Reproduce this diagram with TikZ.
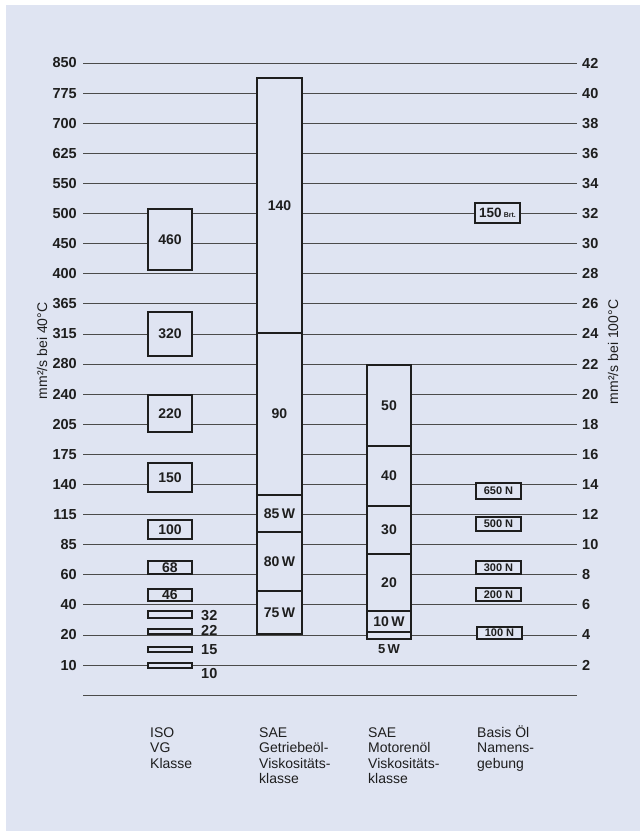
\documentclass[tikz,border=0pt]{standalone}
\usepackage{fontspec}
\setmainfont{Liberation Sans}
\definecolor{bg}{RGB}{223,228,242}
\definecolor{ink}{RGB}{30,30,30}
\begin{document}
\begin{tikzpicture}[x=1pt,y=-1pt,
  grid/.style={draw=ink!80, line width=0.8pt},
  lab/.style={inner sep=0pt, text=ink, font=\bfseries\fontsize{14.5}{15}\selectfont},
  box/.style={draw=ink, line width=1.1pt, fill=bg, inner sep=0pt, text=ink,
     font=\bfseries\fontsize{14}{14}\selectfont},
  isobox/.style={box, minimum width=44pt},
  gearbox/.style={box, minimum width=45pt},
  motbox/.style={box, minimum width=44pt},
  basbox/.style={box, minimum width=45pt, font=\bfseries\fontsize{11}{11}\selectfont},
  title/.style={rotate=90, inner sep=0pt, text=ink, font=\fontsize{14}{14}\selectfont},
  foot/.style={anchor=north west, align=left, inner sep=0pt, text=ink,
     font=\fontsize{14}{15.5}\selectfont}]
\useasboundingbox (0,0) rectangle (640,831);
\fill[bg] (6,5) rectangle (640,831);
% grid lines
\foreach \k in {0,...,21}{
  \coordinate (a\k) at (83,63+30.1*\k);
  \coordinate (b\k) at (577,63+30.1*\k);
  \draw[grid] (a\k) -- (b\k);
}
% left labels
\foreach \v [count=\i from 0] in {850,775,700,625,550,500,450,400,365,315,280,240,205,175,140,115,85,60,40,20,10}{
  \node[lab, anchor=east] (L\i) at (77,63+30.1*\i) {\v};
}
% right labels
\foreach \i in {0,...,20}{
  \pgfmathtruncatemacro\r{42-2*\i}
  \node[lab, anchor=west] (R\i) at (582,63+30.1*\i) {\r};
}
% axis titles
\node[title] (t40) at (42,351) {mm²/s bei 40°C};
\node[title] (t100) at (613,352) {mm²/s bei 100°C};
% ISO VG boxes
\node[isobox, minimum height=61pt] (i460) at (170,239.5) {460};
\node[isobox, minimum height=44pt] (i320) at (170,334) {320};
\node[isobox, minimum height=37pt] (i220) at (170,413.5) {220};
\node[isobox, minimum height=29pt] (i150) at (170,477.5) {150};
\node[isobox, minimum height=19pt] (i100) at (170,529.5) {100};
\node[isobox, minimum height=13pt] (i68) at (170,567.5) {68};
\node[isobox, minimum height=12pt] (i46) at (170,595) {46};
\node[isobox, minimum height=7pt] (i32) at (170,614.5) {};
\node[isobox, minimum height=5pt] (i22) at (170,631.5) {};
\node[isobox, minimum height=5pt] (i15) at (170,649.5) {};
\node[isobox, minimum height=5pt] (i10) at (170,665.5) {};
\node[lab, anchor=west] (l32) at (201,616) {32};
\node[lab, anchor=west] (l22) at (201,630) {22};
\node[lab, anchor=west] (l15) at (201,650) {15};
\node[lab, anchor=west] (l10) at (201,673) {10};
% SAE gear oil column
\node[gearbox, minimum height=255pt] (g140) at (279.5,205.5) {140};
\node[gearbox, minimum height=162pt] (g90) at (279.5,414) {90};
\node[gearbox, minimum height=37pt] (g85) at (279.5,513.5) {85\,W};
\node[gearbox, minimum height=59pt] (g80) at (279.5,561.5) {80\,W};
\node[gearbox, minimum height=43pt] (g75) at (279.5,612.5) {75\,W};
% SAE motor oil column
\node[motbox, minimum height=81pt] (m50) at (389,405.5) {50};
\node[motbox, minimum height=60pt] (m40) at (389,476) {40};
\node[motbox, minimum height=48pt] (m30) at (389,530) {30};
\node[motbox, minimum height=57pt] (m20) at (389,582.5) {20};
\node[motbox, minimum height=21pt] (m10) at (389,621.5) {10\,W};
\node[motbox, minimum height=7pt] (m5) at (389,635.5) {};
\node[lab, font=\bfseries\fontsize{13}{13}\selectfont] (l5) at (389,649) {5\,W};
% Basis oil names
\node[basbox, minimum height=20pt, font=\bfseries\fontsize{13.5}{13.5}\selectfont] (b150) at (497.5,213) {150\,{\fontsize{7}{7}\selectfont Brt.}};
\node[basbox, minimum height=16pt] (b650) at (498.5,491) {650 N};
\node[basbox, minimum height=14pt] (b500) at (498.5,524) {500 N};
\node[basbox, minimum height=13pt] (b300) at (498.5,567.5) {300 N};
\node[basbox, minimum height=13pt] (b200) at (498.5,594.5) {200 N};
\node[basbox, minimum height=12pt] (b100) at (499.5,633) {100 N};
% footer labels
\node[foot] (f1) at (150,725) {\rule{0pt}{12pt}ISO\\VG\\Klasse};
\node[foot] (f2) at (259,725) {\rule{0pt}{12pt}SAE\\Getriebeöl-\\Viskositäts-\\klasse};
\node[foot] (f3) at (368,725) {\rule{0pt}{12pt}SAE\\Motorenöl\\Viskositäts-\\klasse};
\node[foot] (f4) at (477,725) {\rule{0pt}{12pt}Basis Öl\\Namens-\\gebung};
\end{tikzpicture}
\end{document}
